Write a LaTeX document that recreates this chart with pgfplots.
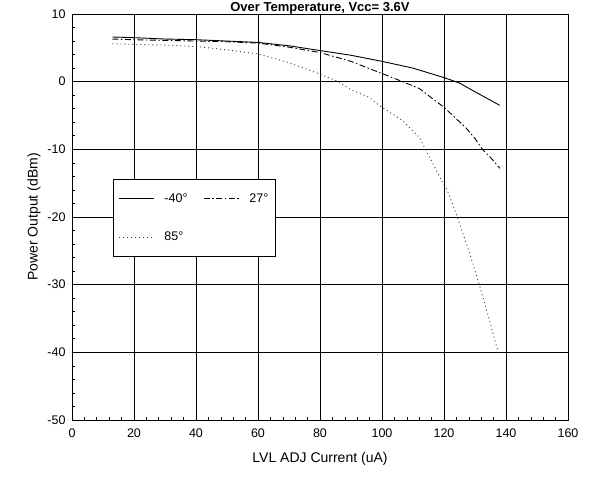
\documentclass[border=0pt]{standalone}
\usepackage{pgfplots}
\pgfplotsset{compat=1.18}
\usepackage{fontspec}
\setmainfont{Liberation Sans}
\begin{document}
\begin{tikzpicture}
\useasboundingbox (-72pt,-66pt) rectangle (517pt,420pt);
\begin{axis}[
  at={(0,0)}, anchor=south west,
  scale only axis, width=496pt, height=406pt,
  xmin=0, xmax=160, ymin=-50, ymax=10,
  xtick={0,20,...,160}, ytick={-50,-40,...,10},
  minor x tick num=4, minor y tick num=4,
  tick pos=left, tick align=inside,
  major tick length=5pt, minor tick length=3pt,
  grid=major,
  major grid style={black, line width=0.9pt},
  axis line style={black, line width=0.8pt},
  every tick/.style={black, line width=0.6pt},
  tick label style={font=\fontsize{12.5}{14}\selectfont},
  /pgf/number format/assume math mode=true,
  xticklabel style={yshift=-5pt},
  yticklabel style={xshift=-3pt},
  xlabel={LVL ADJ Current (uA)},
  ylabel={Power Output (dBm)},
  label style={font=\fontsize{14}{16}\selectfont},
  xlabel style={yshift=-8pt},
  ylabel style={yshift=0pt},
  title={\textbf{Over Temperature, Vcc= 3.6V}},
  title style={font=\fontsize{13}{15}\selectfont, yshift=-10pt},
  legend columns=2,
  legend style={at={(0.083,0.593)}, anchor=north west, draw=black, line width=0.8pt,
    font=\fontsize{12.5}{14}\selectfont, inner xsep=5pt, inner ysep=12pt,
    row sep=24pt, /tikz/every even column/.append style={column sep=14pt}},
  legend cell align=left,
  legend image code/.code={\draw[#1] (0pt,0pt) -- (35pt,0pt); \path (43pt,0pt);},
]
\addplot[black, line width=0.9pt] coordinates {
(13,6.6)(20,6.5)(30,6.3)(40,6.2)(50,6.0)(60,5.8)(70,5.3)(80,4.6)(90,3.9)(100,3.0)(110,2.0)(120,0.6)(125,-0.2)(130,-1.5)(138,-3.5)};
\addlegendentry{-40°}
\addplot[black, line width=0.9pt, dash pattern=on 6pt off 2.5pt on 1.5pt off 2.5pt] coordinates {
(13,6.3)(20,6.2)(30,6.1)(40,6.0)(50,5.9)(60,5.7)(70,5.1)(80,4.3)(90,3.0)(100,1.2)(105,0.3)(112,-1.0)(116,-2.4)(120,-3.8)(124,-5.5)(127,-6.8)(130,-8.4)(132.4,-10)(135,-11.2)(138,-12.8)};
\addlegendentry{27°}
\addplot[black!75, line width=0.9pt, dash pattern=on 1pt off 3pt] coordinates {
(13,5.6)(20,5.5)(30,5.4)(40,5.2)(50,4.7)(60,4.1)(70,2.8)(80,1.1)(86,0)(90,-1.2)(95.7,-2.3)(100,-3.8)(106.5,-5.7)(112,-8.2)(114,-10)(117.3,-12.9)(120,-15.3)(121,-16)(122.7,-18)(124.3,-20)(128,-25)(131.4,-30)(134.5,-35)(137.5,-40)};
\addlegendentry{85°}
\end{axis}
\end{tikzpicture}
\end{document}
